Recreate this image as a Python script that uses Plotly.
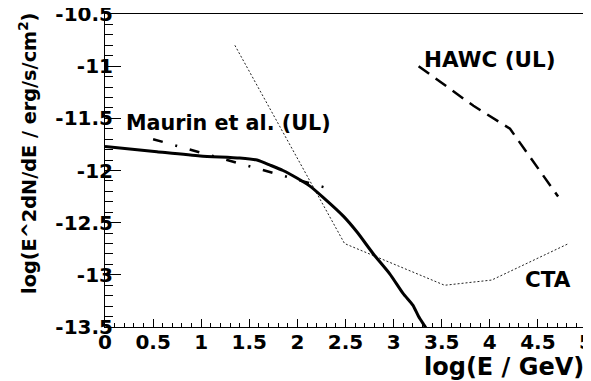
import plotly.graph_objects as go

# Model curve (solid)
model_x = [0.0, 0.54, 0.99, 1.40, 1.58, 1.72, 1.85, 1.99, 2.13, 2.27, 2.48, 2.62, 2.79, 2.96, 3.10, 3.20, 3.26, 3.33, 3.36]
model_y = [-11.77, -11.82, -11.86, -11.88, -11.90, -11.95, -12.00, -12.07, -12.15, -12.26, -12.44, -12.59, -12.80, -12.99, -13.18, -13.29, -13.40, -13.50, -13.55]

# Maurin et al. upper limit (dash-dot)
maurin_x = [0.50, 1.00, 1.78, 2.39]
maurin_y = [-11.70, -11.83, -12.03, -12.19]

# CTA sensitivity (dotted)
cta_x = [1.35, 2.49, 3.53, 4.02, 4.82]
cta_y = [-10.80, -12.70, -13.10, -13.05, -12.70]

# HAWC upper limit (dashed)
hawc_x = [3.26, 3.83, 4.21, 4.71]
hawc_y = [-11.00, -11.38, -11.60, -12.25]

xtick_vals = [0, 0.5, 1, 1.5, 2, 2.5, 3, 3.5, 4, 4.5, 5]
xtick_text = ["0", "0.5", "1", "1.5", "2", "2.5", "3", "3.5", "4", "4.5", "5"]
ytick_vals = [-10.5, -11, -11.5, -12, -12.5, -13, -13.5]
ytick_text = ["-10.5", "-11", "-11.5", "-12", "-12.5", "-13", "-13.5"]

FONT = "DejaVu Sans"

fig = go.Figure()
fig.add_trace(go.Scatter(x=cta_x, y=cta_y, mode="lines",
                         line=dict(color="#222", width=1, dash="2px,2px")))
fig.add_trace(go.Scatter(x=maurin_x, y=maurin_y, mode="lines",
                         line=dict(color="black", width=2.5, dash="10px,13px,2px,13px")))
fig.add_trace(go.Scatter(x=hawc_x, y=hawc_y, mode="lines",
                         line=dict(color="black", width=2.5, dash="13px,8px")))
fig.add_trace(go.Scatter(x=model_x, y=model_y, mode="lines",
                         line=dict(color="black", width=3, shape="spline", smoothing=0.6)))

axis_common = dict(showgrid=False, zeroline=False, showline=True, mirror=True,
                   linecolor="black", linewidth=1, ticks="inside", tickcolor="black",
                   tickwidth=1, automargin=False, ticklabeloverflow="allow",
                   tickfont=dict(family=FONT, size=20, color="black", weight="bold"))

fig.update_xaxes(range=[0, 5], tickvals=xtick_vals, ticktext=xtick_text, ticklen=8,
                 ticklabelstandoff=-3,
                 minor=dict(dtick=0.1, ticklen=4, ticks="inside", tickcolor="black", tickwidth=1),
                 **axis_common)
fig.update_yaxes(range=[-13.5, -10.5], tickvals=ytick_vals, ticktext=ytick_text, ticklen=16,
                 ticklabelstandoff=-13,
                 minor=dict(dtick=0.1, ticklen=8, ticks="inside", tickcolor="black", tickwidth=1),
                 **axis_common)

ann_font = dict(family=FONT, size=20.7, color="black", weight="bold")
annotations = [
    dict(x=0.20, y=-11.54, xref="x", yref="y", text="Maurin et al. (UL)",
         showarrow=False, xanchor="left", yanchor="middle", font=ann_font),
    dict(x=3.30, y=-10.94, xref="x", yref="y", text="HAWC (UL)",
         showarrow=False, xanchor="left", yanchor="middle",
         font=dict(family=FONT, size=21.5, color="black", weight="bold")),
    dict(x=4.34, y=-13.04, xref="x", yref="y", text="CTA",
         showarrow=False, xanchor="left", yanchor="middle",
         font=dict(family=FONT, size=21.5, color="black", weight="bold")),
    dict(x=1.0, y=-0.128, xref="paper", yref="paper", text="log(E / GeV)",
         showarrow=False, xanchor="right", yanchor="middle",
         font=dict(family=FONT, size=24, color="black", weight="bold")),
    dict(x=-0.16, y=0.553, xref="paper", yref="paper",
         text="log(E^2dN/dE / erg/s/cm<sup>2</sup>)", textangle=-90,
         showarrow=False, xanchor="center", yanchor="middle",
         font=dict(family=FONT, size=19.3, color="black", weight="bold")),
]

# The page places the figure 8 px from the top-left corner, so the figure is
# sized to fit the 591x381 window and the margins are reduced by 8 px.
fig.update_layout(width=583, height=373, margin=dict(l=97, r=5, t=6, b=54, autoexpand=False),
                  plot_bgcolor="white", paper_bgcolor="white", showlegend=False,
                  annotations=annotations)

fig.write_html("out.html")
